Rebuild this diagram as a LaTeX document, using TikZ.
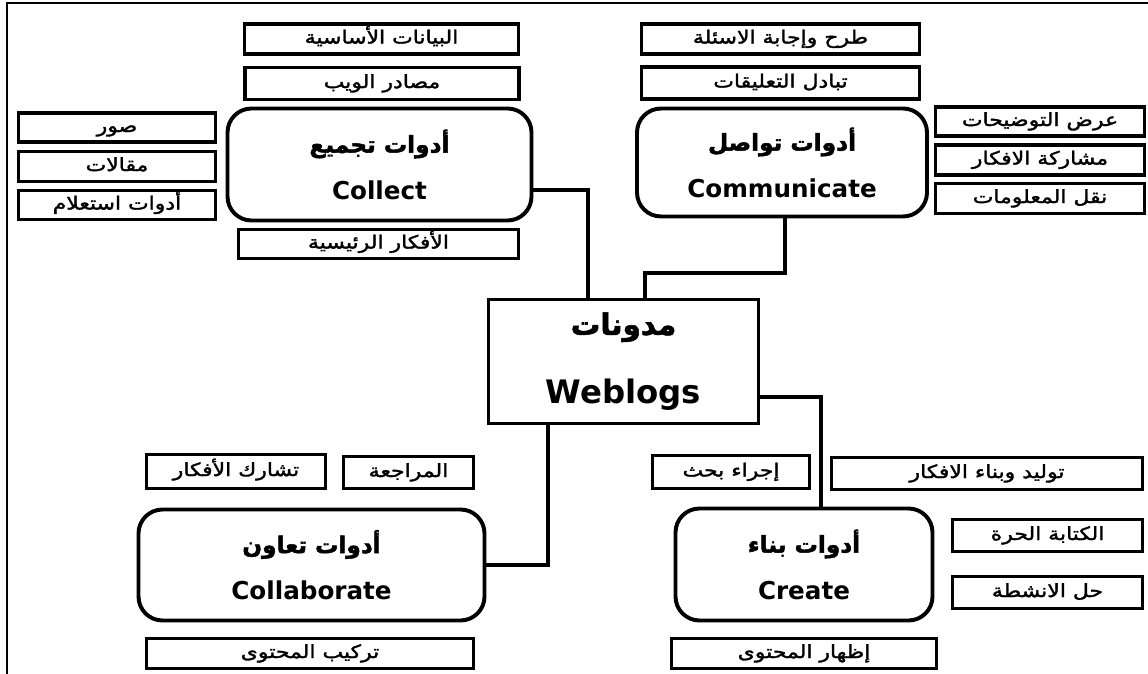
\documentclass[tikz,border=0pt]{standalone}
\usepackage{fontspec}
\setmainfont{DejaVu Sans}
\newfontfamily\arabicfont[Script=Arabic,FakeBold=1.8,FakeStretch=1.2]{DejaVu Sans}
\newfontfamily\arabichead[Script=Arabic,FakeBold=2]{DejaVu Sans}
\TeXXeTstate=1
\usetikzlibrary{calc}
\newcommand{\headsize}[1]{\arabichead\fontsize{#1}{#1}\selectfont}

\begin{document}
\begin{tikzpicture}[x=0.025cm,y=-0.025cm,
    item/.style 2 args={draw,line width=2.8pt,minimum width=#1*0.025cm,minimum height=#2*0.025cm,inner sep=0pt,text height=0.95em,text depth=0.3em,font=\fontsize{13}{15}\selectfont\arabicfont},
    tool/.style 2 args={draw,line width=2.8pt,rounded corners=0.6cm,minimum width=#1*0.025cm,minimum height=#2*0.025cm,inner sep=0pt,align=center,font=\fontsize{17.5}{20}\selectfont\bfseries},
    hub/.style 2 args={draw,line width=2.8pt,minimum width=#1*0.025cm,minimum height=#2*0.025cm,inner sep=0pt,align=center,font=\fontsize{23}{27}\selectfont\bfseries},
    link/.style={line width=2.8pt},
    frame/.style={line width=1.4pt}]
    \useasboundingbox (0,0) rectangle (1148,674);
    \draw[frame] (1148,3) -- (7,3) -- (7,674);

    % Weblogs
    \node[hub={270}{124}] (weblogs) at (623.5,361.5) {{\headsize{21}\beginR مدونات\endR}\\[22pt]Weblogs};

    % Collect
    \node[tool={304}{112}] (collect) at (379.5,164.5) {{\headsize{16.5}\beginR أدوات تجميع\endR}\\[13pt]Collect};
    \node[item={274}{30}] (cBasic) at (381.5,39) {\beginR البيانات الأساسية\endR};
    \node[item={274}{32}] (cWeb) at (382,83.5) {\beginR مصادر الويب\endR};
    \node[item={197}{29}] (cImg) at (117,127.5) {\beginR صور\endR};
    \node[item={197}{30}] (cArt) at (117,166.5) {\beginR مقالات\endR};
    \node[item={197}{29}] (cQuery) at (117,205) {\beginR أدوات استعلام\endR};
    \node[item={280}{29}] (cMain) at (378.5,244) {\beginR الأفكار الرئيسية\endR};

    % Communicate
    \node[tool={290}{108}] (communicate) at (782,162.5) {{\headsize{16.5}\beginR أدوات تواصل\endR}\\[13pt]Communicate};
    \node[item={278}{30}] (mQA) at (780.5,39) {\beginR طرح وإجابة الاسئلة\endR};
    \node[item={278}{32}] (mComm) at (780.5,83) {\beginR تبادل التعليقات\endR};
    \node[item={209}{29}] (mShow) at (1040,121.5) {\beginR عرض التوضيحات\endR};
    \node[item={209}{30}] (mShare) at (1040,160) {\beginR مشاركة الافكار\endR};
    \node[item={209}{30}] (mTrans) at (1040,198.5) {\beginR نقل المعلومات\endR};

    % Collaborate
    \node[tool={346}{111}] (collaborate) at (311.5,565) {{\headsize{16.5}\beginR أدوات تعاون\endR}\\[13pt]Collaborate};
    \node[item={179}{34}] (lShare) at (236,471.5) {\beginR تشارك الأفكار\endR};
    \node[item={130}{32}] (lRev) at (408.5,472.5) {\beginR المراجعة\endR};
    \node[item={327}{30}] (lComb) at (310,653.5) {\beginR تركيب المحتوى\endR};

    % Create
    \node[tool={257}{112}] (create) at (804,564.5) {{\headsize{16.5}\beginR أدوات بناء\endR}\\[13pt]Create};
    \node[item={157}{33}] (rSearch) at (731,472) {\beginR إجراء بحث\endR};
    \node[item={311}{32}] (rGen) at (987,473.5) {\beginR توليد وبناء الافكار\endR};
    \node[item={190}{32}] (rFree) at (1047.5,535.5) {\beginR الكتابة الحرة\endR};
    \node[item={190}{32}] (rAct) at (1047.5,592.5) {\beginR حل الانشطة\endR};
    \node[item={265}{30}] (rShow) at (804,653.5) {\beginR إظهار المحتوى\endR};

    % Links to the hub
    \draw[link] ($(collect.east)+(0,25.5)$) -| ($(weblogs.north)+(-35.5,0)$);
    \draw[link] ($(communicate.south)+(3,0)$) -- ++(0,55) -| ($(weblogs.north)+(21.5,0)$);
    \draw[link] ($(weblogs.east)+(0,35.5)$) -| ($(create.north)+(17,0)$);
    \draw[link] ($(weblogs.south)+(-75.5,0)$) |- (collaborate.east);
\end{tikzpicture}
\end{document}
